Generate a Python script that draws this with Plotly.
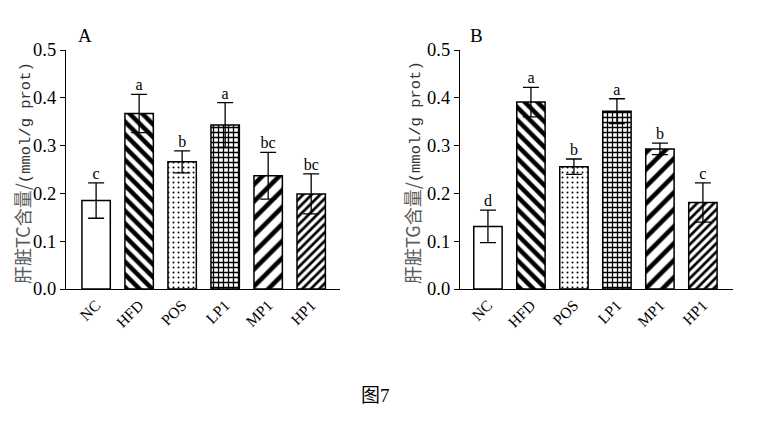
import plotly.graph_objects as go

groups = ["NC", "HFD", "POS", "LP1", "MP1", "HP1"]
tc_mean = [0.185, 0.367, 0.266, 0.343, 0.237, 0.199]
tc_err = [0.037, 0.040, 0.023, 0.047, 0.049, 0.042]
tc_sig = ["c", "a", "b", "a", "bc", "bc"]
tg_mean = [0.131, 0.391, 0.256, 0.372, 0.293, 0.181]
tg_err = [0.034, 0.031, 0.016, 0.026, 0.012, 0.041]
tg_sig = ["d", "a", "b", "a", "b", "c"]
y_ticks = [0.0, 0.1, 0.2, 0.3, 0.4, 0.5]

shapes = ["", "\\", ".", "+", "/", "/"]
psize = [8, 9, 5, 5, 12, 6]
psol = [0.3, 0.5, 0.12, 0.45, 0.38, 0.45]

SERIF = "Liberation Serif, Times New Roman, serif"
W, H, OFF = 765, 414, 8  # page body margin offset


def px(x):
    return (x - OFF) / W


def py(y):
    return 1 - (y - OFF) / H


fig = go.Figure()


def add_panel(means, errs, sigs, xa, ya):
    fig.add_trace(go.Bar(
        x=groups, y=means, width=0.66,
        marker=dict(color="white", line=dict(color="black", width=1.5),
                    pattern=dict(shape=shapes, size=psize, solidity=psol,
                                 fgcolor="black", bgcolor="white", fgopacity=1,
                                 fillmode="replace")),
        error_y=dict(type="data", array=errs, visible=True, color="black",
                     thickness=1.3, width=8),
        xaxis=xa, yaxis=ya, showlegend=False))
    fig.add_trace(go.Scatter(
        x=groups, y=[m + e for m, e in zip(means, errs)], mode="text",
        text=sigs, textposition="top center",
        textfont=dict(family=SERIF, size=16, color="black"),
        xaxis=xa, yaxis=ya, showlegend=False, cliponaxis=False))


add_panel(tc_mean, tc_err, tc_sig, "x", "y")
add_panel(tg_mean, tg_err, tg_sig, "x2", "y2")

xcommon = dict(showline=True, linecolor="black", linewidth=1.3, ticks="",
               tickangle=-45, tickfont=dict(family=SERIF, size=15.5, color="black"),
               showgrid=False, zeroline=False, automargin=False)
ycommon = dict(range=[0, 0.5], tickvals=y_ticks, ticktext=[f"{v:.1f}" for v in y_ticks],
               showline=True, linecolor="black", linewidth=1.3, ticks="outside",
               ticklen=5, tickwidth=1.3, tickcolor="black",
               tickfont=dict(family=SERIF, size=18.5, color="black"),
               showgrid=False, zeroline=False, automargin=False)

ydom = [py(289), py(50)]
fig.update_layout(
    template="none",
    width=W, height=H, autosize=False,
    margin=dict(l=0, r=0, t=0, b=0, pad=0),
    paper_bgcolor="white", plot_bgcolor="white",
    xaxis=dict(domain=[px(66), px(340)], range=[-0.7, 5.67], anchor="y", **xcommon),
    yaxis=dict(domain=ydom, anchor="x", **ycommon),
    xaxis2=dict(domain=[px(460), px(733)], range=[-0.65, 5.7], anchor="y2", **xcommon),
    yaxis2=dict(domain=ydom, anchor="x2", **ycommon),
)

ann = []
for xr, lab in [(85, "A"), (476, "B")]:
    ann.append(dict(x=px(xr), y=py(36), xref="paper", yref="paper", text=lab,
                    xanchor="center", yanchor="middle", showarrow=False,
                    font=dict(family=SERIF, size=19, color="black")))
mono = "Liberation Mono, DejaVu Sans Mono, monospace"
for xr, code in [(22, "TC"), (412, "TG")]:
    t = (f'<span style="color:#5a5a5a;font-size:18px">肝脏{code}含量/</span>'
         f'<span style="font-family:{mono};font-size:15.5px;color:#333333">(mmol/g prot)</span>')
    ann.append(dict(x=px(xr), y=py(173), xref="paper", yref="paper", text=t,
                    xanchor="center", yanchor="middle", textangle=-90, showarrow=False,
                    font=dict(family="Noto Sans CJK SC, " + SERIF, size=18, color="#333333")))
ann.append(dict(x=px(375), y=py(393), xref="paper", yref="paper",
                text='图<span style="font-family:Liberation Serif">7</span>',
                xanchor="center", yanchor="middle", showarrow=False,
                font=dict(family="Noto Sans CJK SC", size=19, color="black")))
fig.update_layout(annotations=ann)

fig.write_html("out.html")
